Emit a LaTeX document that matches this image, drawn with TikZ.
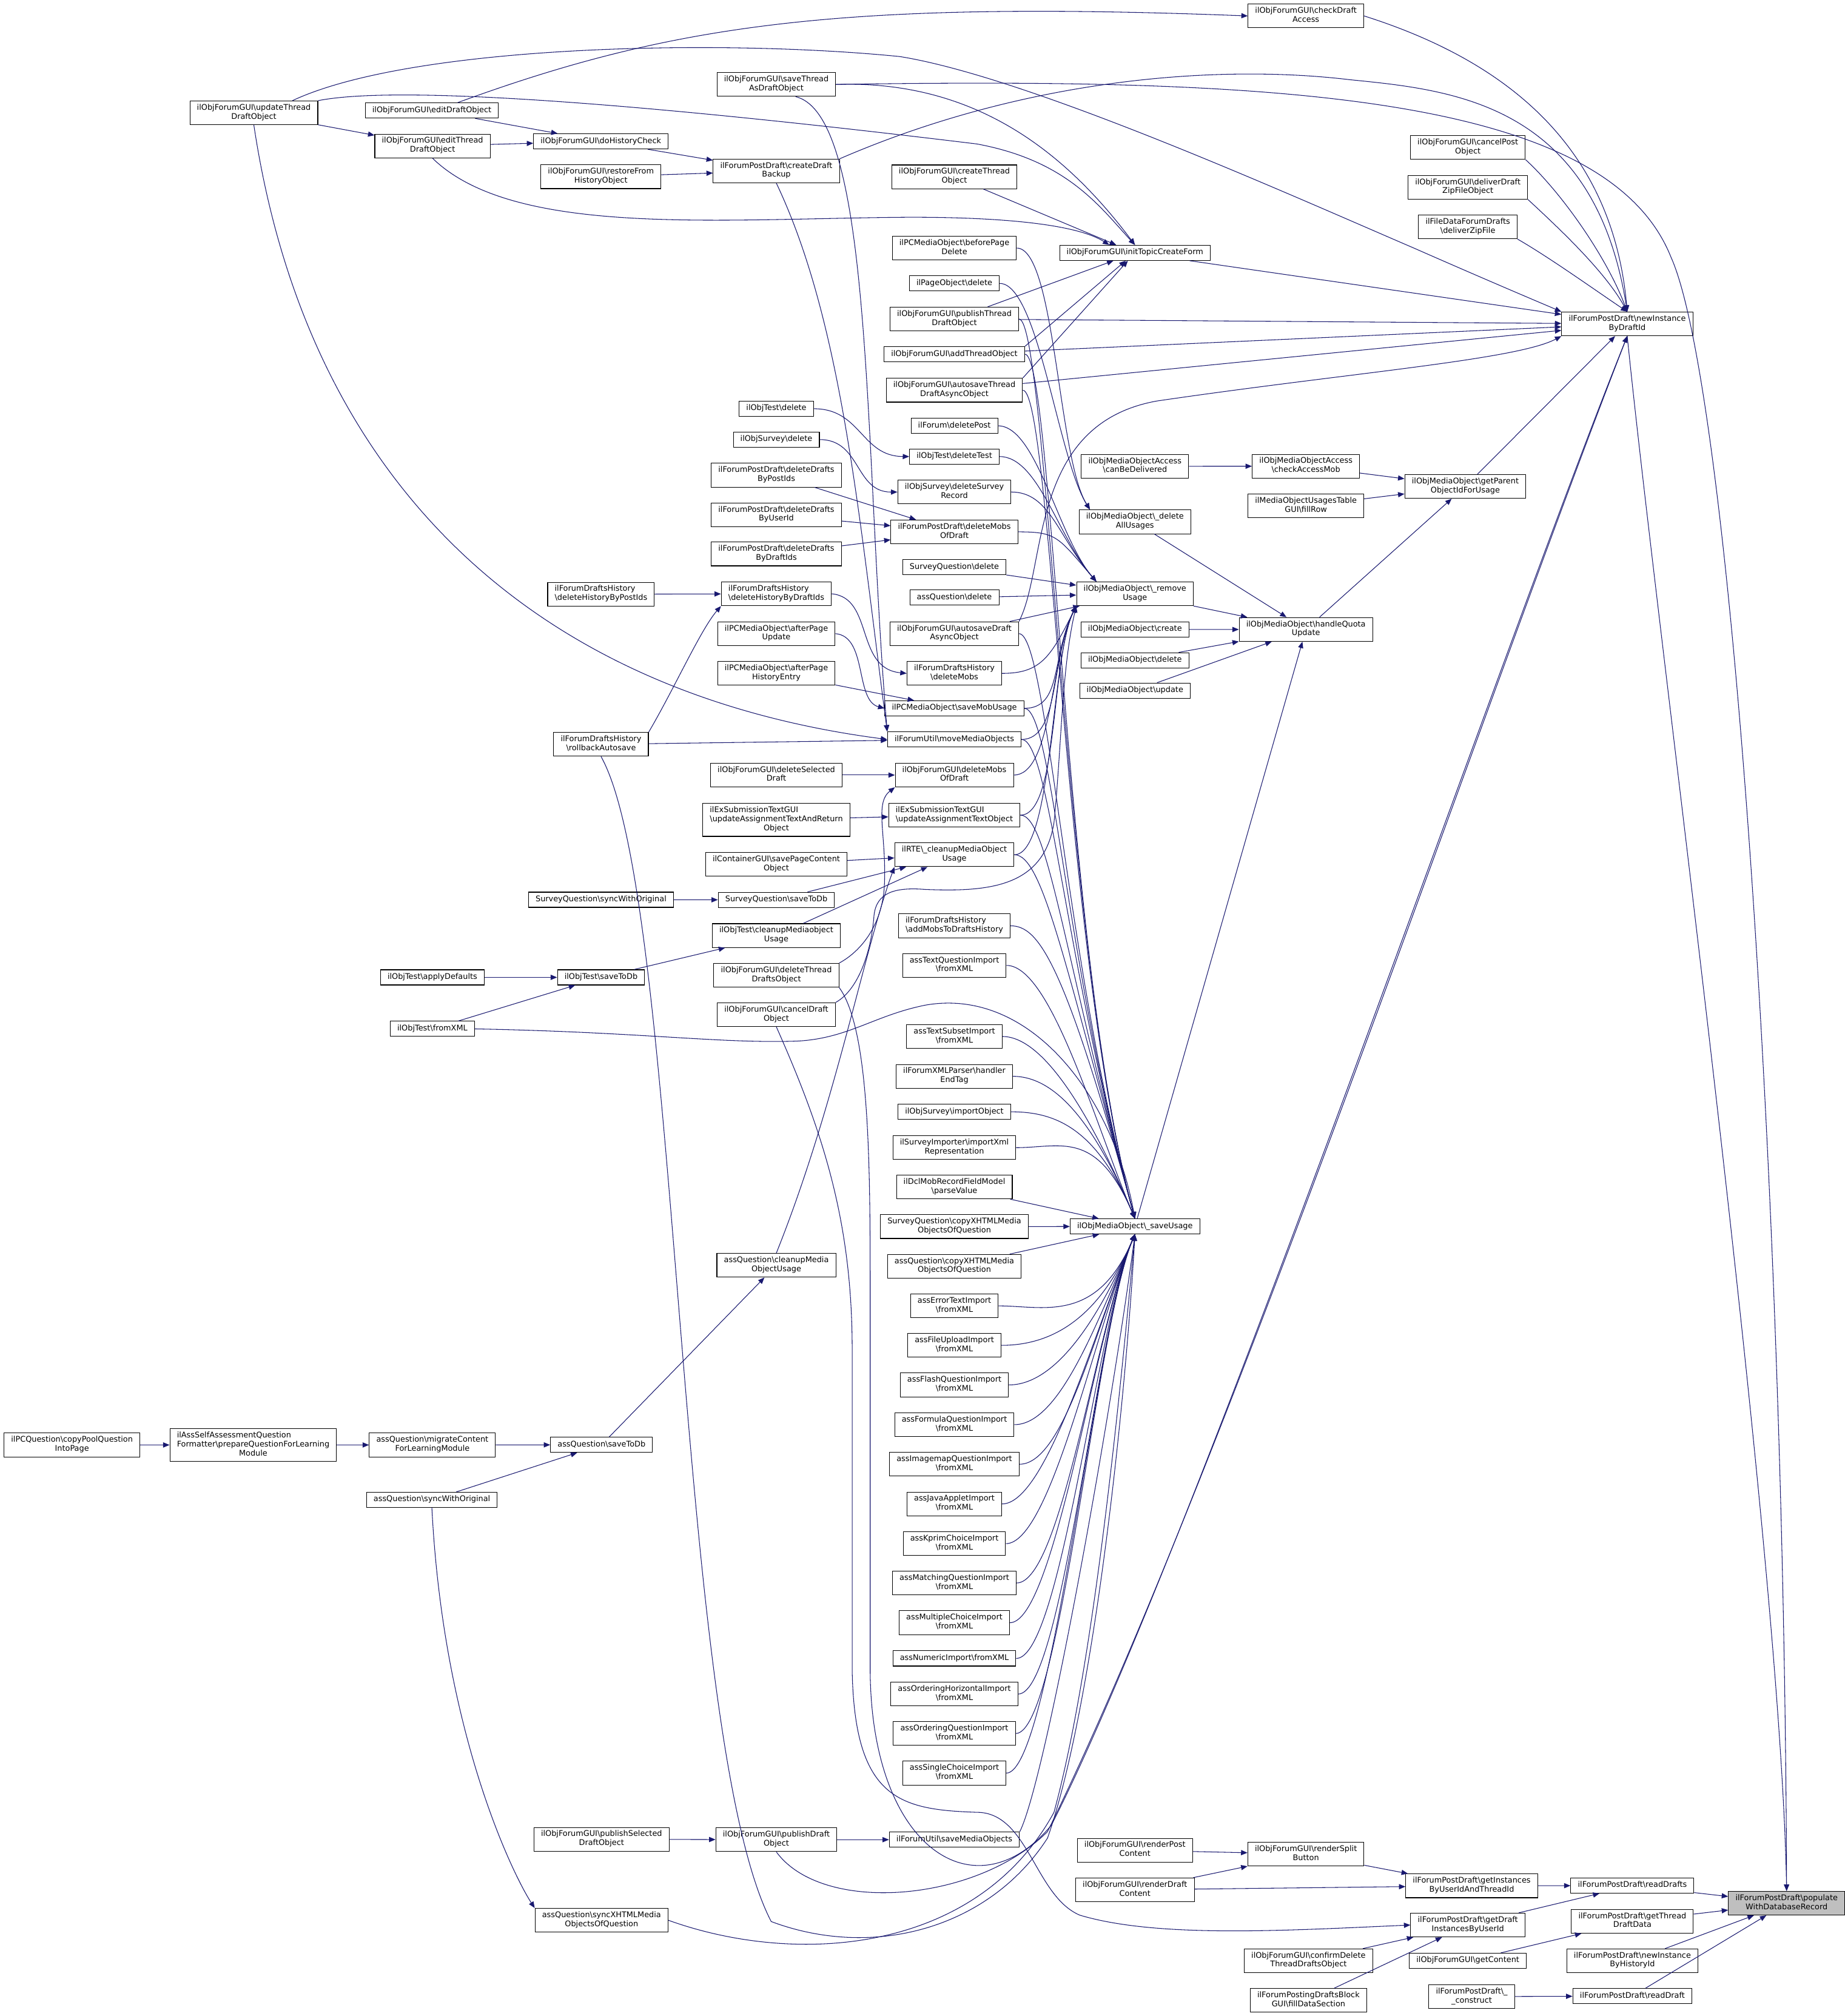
\documentclass[tikz,border=0pt]{standalone}
\usepackage{fontspec}
\setmainfont{DejaVu Sans}
\usetikzlibrary{arrows.meta, positioning}
\definecolor{edgeblue}{RGB}{25,25,112}
\definecolor{rootgray}{RGB}{191,191,191}
\newcommand{\bs}{\textbackslash}

\tikzset{
  fn/.style={draw=black, fill=white, line width=0.5pt, font=\fontsize{6.07}{7}\selectfont,
    inner xsep=5.5pt, inner ysep=2.4pt, align=center,
    execute at begin node=\strut, execute at end node=\strut},
  fnl/.style={fn, align=left},
  fnt/.style={draw=black, fill=white, line width=0.5pt, font=\fontsize{6.07}{7}\selectfont,
    inner xsep=5.5pt, inner ysep=2.4pt},
  root/.style={fn, fill=rootgray},
  call/.style={draw=edgeblue, line width=0.5pt, -{Triangle[length=5pt, width=4pt]}}
}

\begin{document}
\begin{tikzpicture}[x=1pt, y=1pt]
  \fill[white] (0,0) rectangle (1435,-1568.5);
  \useasboundingbox (0,0) rectangle (1435,-1568.5);

  % root
  \node[root] (pop) at (1390,-1480.7) {ilForumPostDraft\bs populate\\WithDatabaseRecord};

  % direct callers
  \node[fn] (nid) at (1266,-252) {ilForumPostDraft\bs newInstance\\ByDraftId};
  \node[fn] (rds) at (1270,-1467) {ilForumPostDraft\bs readDrafts};
  \node[fn] (gtd) at (1270,-1494.8) {ilForumPostDraft\bs getThread\\DraftData};
  \node[fn] (nih) at (1270,-1525.5) {ilForumPostDraft\bs newInstance\\ByHistoryId};
  \node[fn] (rdr) at (1270,-1553) {ilForumPostDraft\bs readDraft};

  \node[fn] (cpo) at (1142,-114.7) {ilObjForumGUI\bs cancelPost\\Object};
  \node[fn] (ddz) at (1142,-145.7) {ilObjForumGUI\bs deliverDraft\\ZipFileObject};
  \node[fn] (dzf) at (1142,-176.5) {ilFileDataForumDrafts\\\bs deliverZipFile};
  \node[fn] (gpo) at (1140,-378.5) {ilObjMediaObject\bs getParent\\ObjectIdForUsage};
  \node[fn] (giu) at (1145,-1467.2) {ilForumPostDraft\bs getInstances\\ByUserIdAndThreadId};
  \node[fn] (gdi) at (1142,-1497.7) {ilForumPostDraft\bs getDraft\\InstancesByUserId};
  \node[fn] (gct) at (1142,-1525.5) {ilObjForumGUI\bs getContent};
  \node[fn] (con) at (1145,-1553.4) {ilForumPostDraft\bs \_\\\_construct};

  \node[fn] (cda) at (1016,-12.4) {ilObjForumGUI\bs checkDraft\\Access};
  \node[fn] (cam) at (1016,-362.7) {ilObjMediaObjectAccess\\\bs checkAccessMob};
  \node[fn] (ufr) at (1016,-393.6) {ilMediaObjectUsagesTable\\GUI\bs fillRow};
  \node[fn] (hqu) at (1016,-489.7) {ilObjMediaObject\bs handleQuota\\Update};
  \node[fn] (rsb) at (1016,-1442.5) {ilObjForumGUI\bs renderSplit\\Button};
  \node[fn] (cdt) at (1018,-1525.5) {ilObjForumGUI\bs confirmDelete\\ThreadDraftsObject};
  \node[fn] (fds) at (1018,-1556.3) {ilForumPostingDraftsBlock\\GUI\bs fillDataSection};

  \node[fn] (itc) at (883,-196.7) {ilObjForumGUI\bs initTopicCreateForm};
  \node[fn] (cbd) at (883,-362.8) {ilObjMediaObjectAccess\\\bs canBeDelivered};
  \node[fn] (dau) at (883,-406) {ilObjMediaObject\bs \_delete\\AllUsages};
  \node[fn] (ru) at (883,-462) {ilObjMediaObject\bs \_remove\\Usage};
  \node[fn] (mcr) at (883,-489.8) {ilObjMediaObject\bs create};
  \node[fn] (mdl) at (883,-513.7) {ilObjMediaObject\bs delete};
  \node[fn] (mup) at (883,-537.3) {ilObjMediaObject\bs update};
  \node[fn] (su) at (883,-954.2) {ilObjMediaObject\bs \_saveUsage};
  \node[fn] (rpc) at (883,-1439.5) {ilObjForumGUI\bs renderPost\\Content};
  \node[fn] (rdc) at (883,-1470.3) {ilObjForumGUI\bs renderDraft\\Content};

  % column of forum / media callers
  \node[fn] (cto) at (742.5,-137.6) {ilObjForumGUI\bs createThread\\Object};
  \node[fn] (bpd) at (742.5,-193) {ilPCMediaObject\bs beforePage\\Delete};
  \node[fn] (pod) at (742.5,-220.5) {ilPageObject\bs delete};
  \node[fn] (ptd) at (742.5,-248.2) {ilObjForumGUI\bs publishThread\\DraftObject};
  \node[fn] (ato) at (742.5,-275.6) {ilObjForumGUI\bs addThreadObject};
  \node[fn] (ata) at (742.5,-303.6) {ilObjForumGUI\bs autosaveThread\\DraftAsyncObject};
  \node[fn] (fdp) at (742.5,-331.3) {ilForum\bs deletePost};
  \node[fn] (tdt) at (742.5,-355.2) {ilObjTest\bs deleteTest};
  \node[fn] (dsr) at (742.5,-382.8) {ilObjSurvey\bs deleteSurvey\\Record};
  \node[fn] (pdm) at (742.5,-413.8) {ilForumPostDraft\bs deleteMobs\\OfDraft};
  \node[fn] (sqdl) at (742.5,-441.4) {SurveyQuestion\bs delete};
  \node[fn] (qdl) at (742.5,-465) {assQuestion\bs delete};
  \node[fn] (ada) at (742.5,-493) {ilObjForumGUI\bs autosaveDraft\\AsyncObject};
  \node[fn] (hdm) at (742.5,-523.9) {ilForumDraftsHistory\\\bs deleteMobs};
  \node[fn] (smu) at (742.5,-551.1) {ilPCMediaObject\bs saveMobUsage};
  \node[fn] (mmo) at (742.5,-575.3) {ilForumUtil\bs moveMediaObjects};
  \node[fn] (gdm) at (742.5,-603) {ilObjForumGUI\bs deleteMobs\\OfDraft};
  \node[fnl] (uat) at (742.5,-634.2) {ilExSubmissionTextGUI\\\bs updateAssignmentTextObject};
  \node[fn] (rcm) at (742.5,-665) {ilRTE\bs \_cleanupMediaObject\\Usage};
  \node[fnl] (amh) at (742.5,-720.3) {ilForumDraftsHistory\\\bs addMobsToDraftsHistory};
  \node[fn] (itq) at (742.5,-751.1) {assTextQuestionImport\\\bs fromXML};
  \node[fn] (its) at (742.5,-806.4) {assTextSubsetImport\\\bs fromXML};
  \node[fn] (xph) at (742.5,-837.4) {ilForumXMLParser\bs handler\\EndTag};
  \node[fn] (sio) at (742.5,-865) {ilObjSurvey\bs importObject};
  \node[fn] (sir) at (742.5,-892.9) {ilSurveyImporter\bs importXml\\Representation};
  \node[fn] (dcl) at (742.5,-923.5) {ilDclMobRecordFieldModel\\\bs parseValue};
  \node[fn] (sqx) at (742.5,-954.3) {SurveyQuestion\bs copyXHTMLMedia\\ObjectsOfQuestion};
  \node[fn] (qcx) at (742.5,-985.2) {assQuestion\bs copyXHTMLMedia\\ObjectsOfQuestion};
  \node[fn] (iet) at (742.5,-1016) {assErrorTextImport\\\bs fromXML};
  \node[fn] (ifu) at (742.5,-1046.7) {assFileUploadImport\\\bs fromXML};
  \node[fn] (ifl) at (742.5,-1077.5) {assFlashQuestionImport\\\bs fromXML};
  \node[fn] (ifo) at (742.5,-1108.4) {assFormulaQuestionImport\\\bs fromXML};
  \node[fn] (iim) at (742.5,-1139.2) {assImagemapQuestionImport\\\bs fromXML};
  \node[fn] (ija) at (742.5,-1170.1) {assJavaAppletImport\\\bs fromXML};
  \node[fn] (ikp) at (742.5,-1201) {assKprimChoiceImport\\\bs fromXML};
  \node[fn] (ima) at (742.5,-1231.6) {assMatchingQuestionImport\\\bs fromXML};
  \node[fn] (imc) at (742.5,-1262.5) {assMultipleChoiceImport\\\bs fromXML};
  \node[fn] (inu) at (742.5,-1290.3) {assNumericImport\bs fromXML};
  \node[fn] (ioh) at (742.5,-1318) {assOrderingHorizontalImport\\\bs fromXML};
  \node[fn] (ioq) at (742.5,-1348.7) {assOrderingQuestionImport\\\bs fromXML};
  \node[fn] (isc) at (742.5,-1379.5) {assSingleChoiceImport\\\bs fromXML};
  \node[fn] (umo) at (742.5,-1431.3) {ilForumUtil\bs saveMediaObjects};

  \node[fn] (sta) at (604,-65.7) {ilObjForumGUI\bs saveThread\\AsDraftObject};
  \node[fn] (cdb) at (604,-133) {ilForumPostDraft\bs createDraft\\Backup};
  \node[fn] (otd) at (604,-318) {ilObjTest\bs delete};
  \node[fn] (osd) at (604,-342) {ilObjSurvey\bs delete};
  \node[fn] (ddp) at (604,-369.7) {ilForumPostDraft\bs deleteDrafts\\ByPostIds};
  \node[fn] (ddu) at (604,-400.5) {ilForumPostDraft\bs deleteDrafts\\ByUserId};
  \node[fn] (ddd) at (604,-431) {ilForumPostDraft\bs deleteDrafts\\ByDraftIds};
  \node[fnl] (dhd) at (604,-462) {ilForumDraftsHistory\\\bs deleteHistoryByDraftIds};
  \node[fn] (apu) at (604,-493) {ilPCMediaObject\bs afterPage\\Update};
  \node[fn] (aph) at (604,-523.9) {ilPCMediaObject\bs afterPage\\HistoryEntry};
  \node[fn] (dsd) at (604,-603) {ilObjForumGUI\bs deleteSelected\\Draft};
  \node[fnt] (uar) at (604,-637.8) {\begin{tabular}{@{}l@{}}ilExSubmissionTextGUI\\\bs updateAssignmentTextAndReturn\\\multicolumn{1}{@{}c@{}}{Object}\end{tabular}};
  \node[fn] (spc) at (604,-672.4) {ilContainerGUI\bs savePageContent\\Object};
  \node[fn] (sqd) at (604,-700.1) {SurveyQuestion\bs saveToDb};
  \node[fn] (tcm) at (604,-727.9) {ilObjTest\bs cleanupMediaobject\\Usage};
  \node[fn] (dtd) at (604,-758.8) {ilObjForumGUI\bs deleteThread\\DraftsObject};
  \node[fn] (cdo) at (604,-789.4) {ilObjForumGUI\bs cancelDraft\\Object};
  \node[fn] (qcm) at (604,-984.4) {assQuestion\bs cleanupMedia\\ObjectUsage};
  \node[fn] (pdo) at (604,-1431.3) {ilObjForumGUI\bs publishDraft\\Object};

  \node[fn] (dhc) at (467.5,-110) {ilObjForumGUI\bs doHistoryCheck};
  \node[fn] (rfh) at (467.5,-137.5) {ilObjForumGUI\bs restoreFrom\\HistoryObject};
  \node[fnl] (dhp) at (467.6,-462.3) {ilForumDraftsHistory\\\bs deleteHistoryByPostIds};
  \node[fn] (rba) at (467.6,-579.1) {ilForumDraftsHistory\\\bs rollbackAutosave};
  \node[fn] (sqs) at (467.6,-700) {SurveyQuestion\bs syncWithOriginal};
  \node[fn] (tsd) at (467.6,-760.4) {ilObjTest\bs saveToDb};
  \node[fn] (qsd) at (468,-1124.1) {assQuestion\bs saveToDb};
  \node[fn] (psd) at (468,-1431) {ilObjForumGUI\bs publishSelected\\DraftObject};
  \node[fn] (qsx) at (468,-1494) {assQuestion\bs syncXHTMLMedia\\ObjectsOfQuestion};

  \node[fn] (edo) at (336,-86) {ilObjForumGUI\bs editDraftObject};
  \node[fn] (etd) at (336.5,-113.6) {ilObjForumGUI\bs editThread\\DraftObject};
  \node[fn] (tad) at (336.4,-760.4) {ilObjTest\bs applyDefaults};
  \node[fn] (tfx) at (336.4,-800.5) {ilObjTest\bs fromXML};
  \node[fn] (qmc) at (336.4,-1124.2) {assQuestion\bs migrateContent\\ForLearningModule};
  \node[fn] (qso) at (336,-1166.9) {assQuestion\bs syncWithOriginal};

  \node[fn] (utd) at (197.5,-87.8) {ilObjForumGUI\bs updateThread\\DraftObject};
  \node[fnt] (asq) at (197,-1124.2) {\begin{tabular}{@{}l@{}}ilAssSelfAssessmentQuestion\\Formatter\bs prepareQuestionForLearning\\\multicolumn{1}{@{}c@{}}{Module}\end{tabular}};
  \node[fn] (cpq) at (56,-1124.2) {ilPCQuestion\bs copyPoolQuestion\\IntoPage};

  % straight calls
  \foreach \a/\b in {utd/etd, edo/dhc, etd/dhc, dhc/cdb, rfh/cdb, itc/nid, cto/itc, ptd/itc,
      ptd/nid, ato/nid, ata/nid, gpo/nid, cbd/cam, cam/gpo, ufr/gpo, hqu/gpo, dau/hqu, ru/hqu,
      mcr/hqu, mdl/hqu, mup/hqu, su/hqu, sqdl/ru, qdl/ru, ada/ru, sqx/su, qcx/su, dcl/su,
      dhp/dhd, ddp/pdm, ddu/pdm, ddd/pdm, aph/smu, dsd/gdm, uar/uat, spc/rcm, sqd/rcm, tcm/rcm,
      sqs/sqd, tad/tsd, tfx/tsd, tsd/tcm, rba/mmo, qsd/qcm, qmc/qsd, qso/qsd, asq/qmc, cpq/asq,
      psd/pdo, pdo/umo, rpc/rsb, rdc/rsb, rdc/giu, rsb/giu, giu/rds, gdi/rds, cdt/gdi, fds/gdi,
      gct/gtd, con/rdr, rds/pop, gtd/pop, nih/pop, rdr/pop}
    \draw[call] (\a) -- (\b);
  \draw[call] (ato.north east) -- (itc);
  \draw[call] (ata.north east) -- (itc);

  % forum drafts, upper part
  \draw[call] ([xshift=30pt]utd.north) .. controls (320,-35) and (560,-30) .. (700,-44) .. controls (800,-60) and (1000,-150) .. (1100,-193) .. controls (1150,-215) and (1190,-232) .. (nid.north west);
  \draw[call] (utd.north east) .. controls (330,-62) and (620,-95) .. (760,-112) .. controls (830,-125) and (855,-160) .. (itc.north);
  \draw[call] (utd.south) .. controls (240,-380) and (420,-540) .. (mmo.west);
  \draw[call] ([xshift=20pt]edo.north) .. controls (520,-20) and (650,0) .. (cda.west);
  \draw[call] (etd.south) .. controls (400,-185) and (560,-170) .. (708,-169) .. controls (790,-169) and (840,-176) .. ([xshift=-20pt]itc.north);
  \draw[call] (cdb.north east) .. controls (800,-60) and (950,-50) .. (1050,-62) .. controls (1130,-70) and (1240,-80) .. (nid.north);
  \draw[call] (cdb.south) .. controls (655,-250) and (668,-400) .. (mmo.north west);
  \draw[call] (sta.east) .. controls (760,-62) and (830,-120) .. (itc.north);
  \draw[call] (sta.east) .. controls (1000,-60) and (1250,-75) .. (1300,-200) .. controls (1345,-300) and (1388,-900) .. (pop.north);
  \draw[call] ([xshift=15pt]sta.south) .. controls (680,-90) and (672,-350) .. (mmo.north west);
  \draw[call] (cda.east) .. controls (1180,-50) and (1255,-120) .. (nid.north);
  \draw[call] (cpo.south east) .. controls (1215,-150) and (1250,-200) .. (nid.north);
  \draw[call] (ddz.south east) .. controls (1210,-175) and (1248,-210) .. (nid.north);
  \draw[call] (dzf.south east) .. controls (1205,-200) and (1240,-225) .. (nid.north);
  \draw[call] (ada.north east) .. controls (815,-440) and (800,-330) .. (900,-312) .. controls (1050,-290) and (1180,-280) .. (nid.south west);
  \draw[call] (nid.south) .. controls (1290,-500) and (1385,-1200) .. (pop.north);

  % long calls round the bottom
  \draw[call] (pdo.south) .. controls (640,-1490) and (760,-1480) .. (815,-1425) .. controls (950,-1150) and (1150,-560) .. (nid.south);
  \draw[call] (dtd.south east) .. controls (676,-800) and (677,-900) .. (677,-1000) -- (677,-1300) .. controls (678,-1440) and (760,-1490) .. (818,-1420) .. controls (930,-1200) and (1170,-500) .. (nid.south);
  \draw[call] (rba.south) .. controls (530,-700) and (525,-1350) .. (600,-1495) .. controls (680,-1525) and (770,-1500) .. (815,-1430) .. controls (850,-1330) and (875,-1100) .. (su.south);
  \draw[call] (cdo.south) .. controls (640,-880) and (663,-950) .. (663,-1050) -- (663,-1300) .. controls (665,-1400) and (700,-1408) .. (760,-1410) .. controls (800,-1410) and (805,-1475) .. (840,-1490) .. controls (900,-1508) and (1000,-1502) .. (gdi.west);
  \draw[call] (qso.south) .. controls (345,-1350) and (400,-1460) .. (qsx.north west);
  \draw[call] (qsx.east) .. controls (620,-1530) and (760,-1520) .. (820,-1410) .. controls (850,-1300) and (870,-1100) .. (su.south);
  \draw[call] (tfx.east) .. controls (500,-803) and (560,-812) .. (620,-810) .. controls (660,-808) and (680,-790) .. (720,-782) .. controls (800,-768) and (865,-850) .. (su.north);
  \draw[call] (umo.north east) .. controls +(20,40) and +(-20,-150) .. (su.south);
  \draw[call] (qcm.north) .. controls (650,-860) and (672,-740) .. (rcm.south west);

  % small links in the middle
  \draw[call] (otd.east) .. controls (670,-318) and (670,-355) .. (tdt.west);
  \draw[call] (osd.east) .. controls (670,-342) and (665,-383) .. (dsr.west);
  \draw[call] (dhd.east) .. controls (680,-465) and (665,-520) .. (hdm.west);
  \draw[call] (apu.east) .. controls (675,-495) and (665,-545) .. (smu.west);
  \draw[call] (rba.north east) .. controls (525,-535) and (545,-490) .. (dhd.south west);
  \draw[call] (dtd.north east) .. controls (670,-740) and (686,-720) .. (688,-690) .. controls (690,-650) and (680,-625) .. (gdm.south west);
  \draw[call] (cdo.north east) .. controls (668,-770) and (678,-740) .. (680,-712) .. controls (682,-695) and (695,-690) .. (720,-692) .. controls (770,-694) and (812,-690) .. (820,-640) .. controls (826,-580) and (826,-520) .. (ru.south west);

  % media usage
  \foreach \n in {bpd,pod}
    \draw[call] (\n.east) .. controls +(30,0) and +(-25,40) .. ([xshift=-35pt]dau.north);
  \foreach \n in {fdp,tdt,dsr,pdm}
    \draw[call] (\n.east) .. controls +(30,0) and +(-30,35) .. ([xshift=-30pt]ru.north);
  \foreach \n in {hdm,smu,mmo,gdm,uat,rcm}
    \draw[call] (\n.east) .. controls +(30,0) and +(-20,-40) .. (ru.south west);
  \foreach \n in {ptd,ato,ata,smu,mmo,uat,rcm,amh,ada}
    \draw[call] (\n.east) .. controls +(22,0) and +(-55,200) .. (su.north);
  \foreach \n in {itq,its,xph,sio,sir}
    \draw[call] (\n.east) .. controls +(35,0) and +(-30,70) .. (su.north);
  \foreach \n in {iet,ifu,ifl,ifo,iim,ija,ikp,ima,imc,inu,ioh,ioq,isc}
    \draw[call] (\n.east) .. controls +(35,0) and +(-30,-70) .. (su.south);
\end{tikzpicture}
\end{document}
